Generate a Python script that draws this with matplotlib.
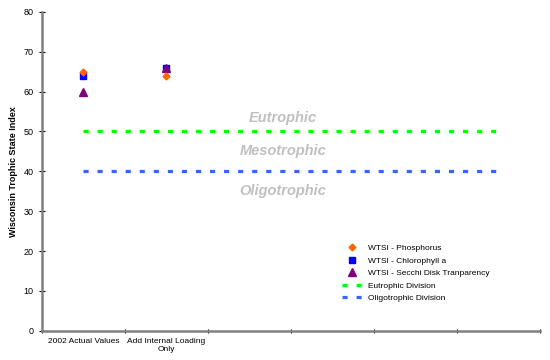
import numpy as np
import matplotlib
matplotlib.use('Agg')
import matplotlib.pyplot as plt

plt.rcParams['font.family'] = ['Liberation Sans', 'DejaVu Sans']

# Data
categories = ['2002 Actual Values', 'Add Internal Loading\nOnly', '', '', '', '']
phosphorus = [65, 64]
chlorophyll = [64, 66]
secchi = [60, 66]
eutrophic_div = [50] * 6
oligotrophic_div = [40] * 6

x_all = np.arange(len(categories))
x_pts = np.arange(len(phosphorus))

fig = plt.figure(figsize=(5.5, 3.6), dpi=100)
ax = fig.add_axes([0.076, 0.081, 0.906, 0.886])

ax.plot(x_pts, phosphorus, linestyle='none', marker='D', ms=3.5, color='#FF6600',
        label='WTSI - Phosphorus', zorder=4)
ax.plot(x_pts, chlorophyll, linestyle='none', marker='s', ms=5, color='#0000FF',
        label='WTSI - Chlorophyll a', zorder=3)
ax.plot(x_pts, secchi, linestyle='none', marker='^', ms=6, color='#800080',
        label='WTSI - Secchi Disk Tranparency', zorder=3)
ax.plot(x_all, eutrophic_div, color='#00FF00', lw=2.3, dashes=(1.6, 2.8),
        label='Eutrophic Division')
ax.plot(x_all, oligotrophic_div, color='#3366FF', lw=2.3, dashes=(1.6, 2.8),
        label='Oligotrophic Division')

txt = dict(ha='center', va='center', color='#C0C0C0', fontsize=10.5,
           fontweight='bold', fontstyle='italic')
ax.text(2.4, 53.5, 'Eutrophic', **txt)
ax.text(2.4, 45, 'Mesotrophic', **txt)
ax.text(2.4, 35, 'Oligotrophic', **txt)

ax.set_xlim(-0.5, 5.5)
ax.set_ylim(0, 80)
ax.set_yticks(range(0, 81, 10))
ax.set_xticks(np.arange(-0.5, 6, 1))
ax.set_xticklabels([])
ax.set_xticks(x_all, minor=True)
ax.set_xticklabels(categories, minor=True)
ax.tick_params(axis='x', which='minor', length=0, pad=5, labelsize=6)
ax.tick_params(axis='x', which='major', length=2.5, direction='inout', color='black')
ax.tick_params(axis='y', length=5, direction='inout', labelsize=6.5, color='black')

for s in ['top', 'right']:
    ax.spines[s].set_visible(False)
for s in ['left', 'bottom']:
    ax.spines[s].set_color('#808080')
    ax.spines[s].set_linewidth(1.8)

ax.set_ylabel('Wisconsin Trophic State Index', fontsize=6.5, fontweight='bold')

ax.legend(loc='lower right', bbox_to_anchor=(0.913, 0.067), frameon=False,
          fontsize=6, handlelength=2.5, labelspacing=0.55, handletextpad=0.6)

fig.savefig('out.png', dpi=100)
